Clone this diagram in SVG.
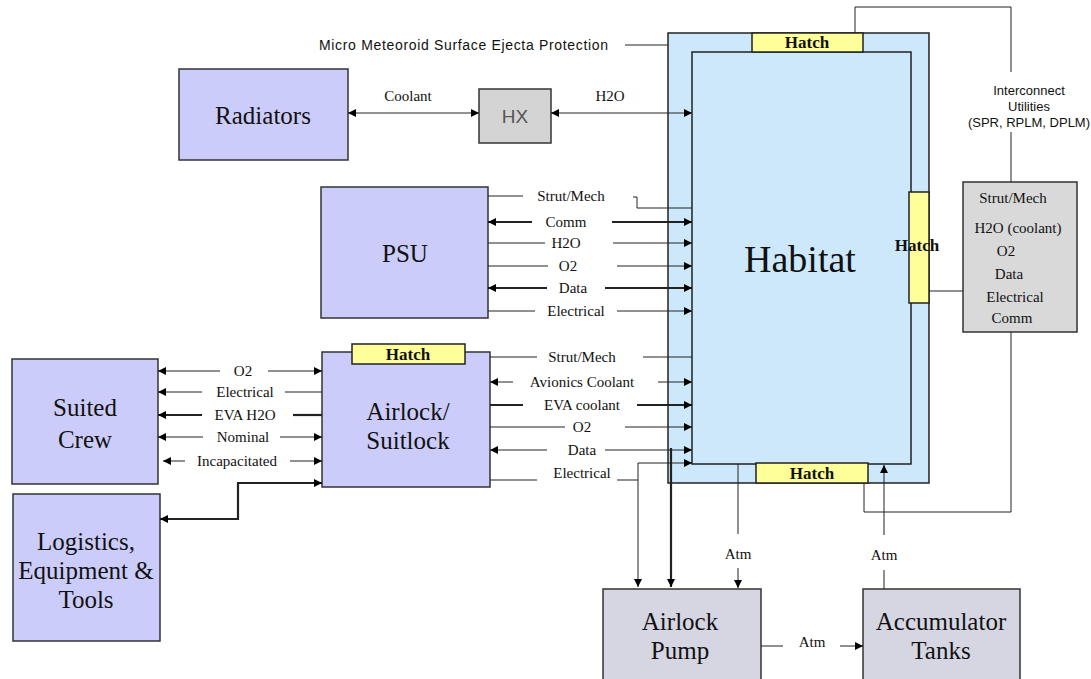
<svg xmlns="http://www.w3.org/2000/svg" width="1091" height="679" viewBox="0 0 1091 679">
<defs>
<marker id="ae" viewBox="0 0 10 10" refX="10" refY="5" markerWidth="9" markerHeight="8" markerUnits="userSpaceOnUse" orient="auto-start-reverse"><path d="M0,0 L10,5 L0,10 z" fill="#000"/></marker>
<style>
.blk{fill:#ccccfa;stroke:#333;stroke-width:1.5}
.gry{fill:#d6d6e2;stroke:#333;stroke-width:1.5}
.hab{fill:#cce8fa;stroke:#222;stroke-width:1.5}
.hatch{fill:#ffff99;stroke:#222;stroke-width:1.5}
.big{font-family:"Liberation Serif",serif;font-size:25px;fill:#111;text-anchor:middle}
.lbl{font-family:"Liberation Serif",serif;font-size:15px;fill:#111;text-anchor:middle}
.sans{font-family:"Liberation Sans",sans-serif;font-size:13px;fill:#111;text-anchor:middle}
.ht{font-family:"Liberation Serif",serif;font-size:17px;font-weight:bold;fill:#111;text-anchor:middle}
.c line,.c polyline{stroke:#222;stroke-width:1;fill:none}
.c .t{stroke-width:2.2}
</style>
</defs>
<rect width="1091" height="679" fill="#fff"/>

<g id="habitat">
<rect class="hab" x="668" y="33" width="261" height="450"/>
<rect class="hab" x="692" y="52" width="219" height="412"/>
<text x="800" y="272" font-family="Liberation Serif,serif" font-size="38" fill="#111" text-anchor="middle">Habitat</text>
</g>
<g id="hatch-top"><rect class="hatch" x="752" y="33" width="111" height="19"/><text class="ht" x="807" y="48">Hatch</text></g>
<g id="hatch-right"><rect class="hatch" x="909" y="192" width="20" height="111"/><text class="ht" x="917" y="251">Hatch</text></g>
<g id="hatch-bottom"><rect class="hatch" x="756" y="463" width="112" height="20"/><text class="ht" x="812" y="479">Hatch</text></g>

<g id="radiators"><rect class="blk" x="179" y="69" width="169" height="91"/><text class="big" x="263" y="124">Radiators</text></g>
<g id="hx"><rect x="479" y="89" width="72" height="54" fill="#d4d4d4" stroke="#333" stroke-width="1.5"/><text x="515" y="123" font-family="Liberation Sans,sans-serif" font-size="19" fill="#555" text-anchor="middle">HX</text></g>
<g id="psu"><rect class="blk" x="321" y="187" width="167" height="131"/><text class="big" x="405" y="262">PSU</text></g>
<g id="airlock"><rect class="blk" x="322" y="352" width="168" height="135"/><text class="big" x="408" y="420">Airlock/</text><text class="big" x="408" y="449">Suitlock</text></g>
<g id="hatch-airlock"><rect class="hatch" x="352" y="344" width="113" height="20"/><text class="ht" x="408" y="360">Hatch</text></g>
<g id="suited-crew"><rect class="blk" x="12" y="359" width="146" height="125"/><text class="big" x="85" y="416">Suited</text><text class="big" x="85" y="448">Crew</text></g>
<g id="logistics"><rect class="blk" x="13" y="494" width="147" height="147"/><text class="big" x="86" y="550">Logistics,</text><text class="big" x="86" y="579">Equipment &amp;</text><text class="big" x="86" y="608">Tools</text></g>
<g id="utilities"><rect x="963" y="182" width="114" height="150" fill="#d9d9d9" stroke="#333" stroke-width="1.5"/>
<text class="lbl" x="1013" y="203">Strut/Mech</text>
<text class="lbl" x="1018" y="233">H2O (coolant)</text>
<text class="lbl" x="1006" y="256">O2</text>
<text class="lbl" x="1009" y="279">Data</text>
<text class="lbl" x="1015" y="302">Electrical</text>
<text class="lbl" x="1012" y="323">Comm</text>
</g>
<g id="airlock-pump"><rect class="gry" x="603" y="589" width="158" height="100"/><text class="big" x="680" y="630">Airlock</text><text class="big" x="680" y="659">Pump</text></g>
<g id="accumulator"><rect class="gry" x="863" y="589" width="157" height="100"/><text class="big" x="941" y="630">Accumulator</text><text class="big" x="941" y="659">Tanks</text></g>

<g id="labels">
<text x="319" y="50" font-family="Liberation Sans,sans-serif" font-size="14" fill="#111" textLength="289" lengthAdjust="spacing">Micro Meteoroid Surface Ejecta Protection</text>
<text class="sans" x="1029" y="95">Interconnect</text>
<text class="sans" x="1029" y="111">Utilities</text>
<text class="sans" x="1029" y="127">(SPR, RPLM, DPLM)</text>
<text class="lbl" x="408" y="101">Coolant</text>
<text class="lbl" x="610" y="101">H2O</text>
<text class="lbl" x="571" y="201">Strut/Mech</text>
<text class="lbl" x="566" y="227">Comm</text>
<text class="lbl" x="566" y="248">H2O</text>
<text class="lbl" x="568" y="271">O2</text>
<text class="lbl" x="573" y="293">Data</text>
<text class="lbl" x="576" y="316">Electrical</text>
<text class="lbl" x="582" y="362">Strut/Mech</text>
<text class="lbl" x="582" y="387">Avionics Coolant</text>
<text class="lbl" x="582" y="410">EVA coolant</text>
<text class="lbl" x="582" y="432">O2</text>
<text class="lbl" x="582" y="455">Data</text>
<text class="lbl" x="582" y="478">Electrical</text>
<text class="lbl" x="243" y="376">O2</text>
<text class="lbl" x="245" y="397">Electrical</text>
<text class="lbl" x="245" y="420">EVA H2O</text>
<text class="lbl" x="243" y="442">Nominal</text>
<text class="lbl" x="237" y="466">Incapacitated</text>
<text class="lbl" x="738" y="559">Atm</text>
<text class="lbl" x="884" y="560">Atm</text>
<text class="lbl" x="812" y="647">Atm</text>
</g>

<g id="connectors" class="c">
<line x1="625" y1="45" x2="668" y2="45"/>
<polyline points="855,33 855,7 1011,7 1011,72"/>
<line x1="1011" y1="132" x2="1011" y2="182"/>
<line x1="929" y1="291" x2="963" y2="291"/>
<polyline points="1011,332 1011,512 864,512 864,483"/>
<line x1="348" y1="113" x2="479" y2="113" marker-start="url(#ae)" marker-end="url(#ae)"/>
<line x1="551" y1="113" x2="692" y2="113" marker-start="url(#ae)" marker-end="url(#ae)"/>
<!-- PSU -->
<line x1="488" y1="196" x2="523" y2="196"/>
<polyline points="633,197 637,197 637,208 692,208"/>
<line class="t" x1="532" y1="222" x2="488" y2="222" marker-end="url(#ae)"/>
<line class="t" x1="612" y1="222" x2="692" y2="222" marker-end="url(#ae)"/>
<line x1="488" y1="243" x2="545" y2="243"/>
<line x1="613" y1="243" x2="692" y2="243" marker-end="url(#ae)"/>
<line x1="488" y1="266" x2="548" y2="266"/>
<line x1="617" y1="266" x2="692" y2="266" marker-end="url(#ae)"/>
<line class="t" x1="547" y1="288" x2="488" y2="288" marker-end="url(#ae)"/>
<line class="t" x1="605" y1="288" x2="692" y2="288" marker-end="url(#ae)"/>
<line x1="488" y1="311" x2="535" y2="311"/>
<line x1="617" y1="311" x2="692" y2="311" marker-end="url(#ae)"/>
<!-- Airlock to habitat -->
<line x1="490" y1="357" x2="537" y2="357"/>
<line x1="643" y1="357" x2="692" y2="357"/>
<line x1="513" y1="382" x2="490" y2="382" marker-end="url(#ae)"/>
<line x1="658" y1="382" x2="692" y2="382" marker-end="url(#ae)"/>
<line class="t" x1="490" y1="405" x2="523" y2="405"/>
<line class="t" x1="637" y1="405" x2="692" y2="405" marker-end="url(#ae)"/>
<line x1="490" y1="427" x2="565" y2="427"/>
<line x1="625" y1="427" x2="692" y2="427" marker-end="url(#ae)"/>
<line x1="547" y1="450" x2="490" y2="450" marker-end="url(#ae)"/>
<line x1="605" y1="450" x2="692" y2="450" marker-end="url(#ae)"/>
<line x1="490" y1="480" x2="537" y2="480"/>
<line x1="617" y1="480" x2="638" y2="480"/>
<polyline points="638,587 638,463 692,463" marker-start="url(#ae)" marker-end="url(#ae)"/>
<line class="t" x1="671" y1="448" x2="671" y2="587" marker-end="url(#ae)"/>
<!-- Atm -->
<line x1="738" y1="464" x2="738" y2="534"/>
<line x1="738" y1="568" x2="738" y2="588" marker-end="url(#ae)"/>
<line x1="884" y1="589" x2="884" y2="570"/>
<line x1="884" y1="535" x2="884" y2="465" marker-end="url(#ae)"/>
<line x1="761" y1="646" x2="783" y2="646"/>
<line x1="840" y1="646" x2="863" y2="646" marker-end="url(#ae)"/>
<!-- Suited crew to airlock -->
<line x1="220" y1="371" x2="158" y2="371" marker-end="url(#ae)"/>
<line x1="268" y1="371" x2="322" y2="371" marker-end="url(#ae)"/>
<line x1="202" y1="392" x2="158" y2="392" marker-end="url(#ae)"/>
<line x1="285" y1="392" x2="322" y2="392"/>
<line class="t" x1="202" y1="415" x2="158" y2="415" marker-end="url(#ae)"/>
<line class="t" x1="293" y1="415" x2="322" y2="415"/>
<line x1="203" y1="437" x2="158" y2="437" marker-end="url(#ae)"/>
<line x1="280" y1="437" x2="322" y2="437" marker-end="url(#ae)"/>
<line x1="185" y1="461" x2="163" y2="461" marker-end="url(#ae)"/>
<line x1="290" y1="461" x2="322" y2="461" marker-end="url(#ae)"/>
<polyline class="t" points="160,519 238,519 238,483 322,483" marker-start="url(#ae)" marker-end="url(#ae)"/>
</g>
</svg>
